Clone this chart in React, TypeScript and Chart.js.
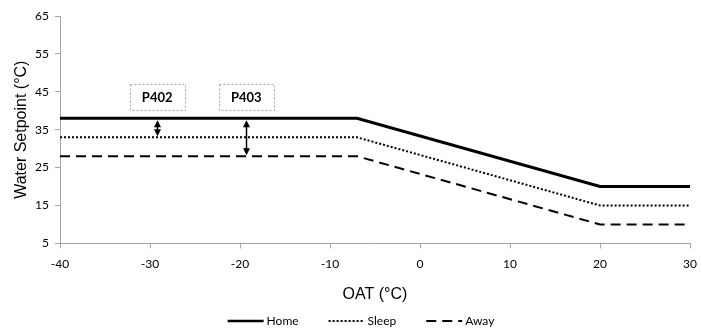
import React, { useEffect, useRef } from "react";
import { Chart, registerables } from "chart.js";

Chart.register(...registerables);

const oat = [-40, -7, 20, 30];
const home = [38, 38, 20, 20];
const sleep = [33, 33, 15, 15];
const away = [28, 28, 10, 10];

const seriesNames = ["Home", "Sleep", "Away"];

const xTicks = [-40, -30, -20, -10, 0, 10, 20, 30];
const yTicks = [5, 15, 25, 35, 45, 55, 65];

// annotation labels and their data positions
const annLabels = ["P402", "P403"];
const annX = [-29.2, -19.3];
const annTop = [38, 38];
const annBottom = [33, 28];
const annBoxY = [43.7, 43.7];

const tickFont = { family: "Lato, 'Open Sans', sans-serif", size: 12 };
const titleFont = { family: "'Liberation Sans', Arial, sans-serif", size: 16 };

const annotationPlugin = {
  id: "paramAnnotations",
  afterDatasetsDraw(chart: any) {
    const { ctx, scales } = chart;
    const xs = scales.x;
    const ys = scales.y;
    ctx.save();
    for (let i = 0; i < annLabels.length; i++) {
      const px = Math.round(xs.getPixelForValue(annX[i])) + 0.5;
      const pTop = ys.getPixelForValue(annTop[i]) + 2;
      const pBot = ys.getPixelForValue(annBottom[i]) - 1;
      ctx.strokeStyle = "#000";
      ctx.fillStyle = "#000";
      ctx.lineWidth = 1.5;
      ctx.setLineDash([]);
      ctx.beginPath();
      ctx.moveTo(px, pTop + 4);
      ctx.lineTo(px, pBot - 4);
      ctx.stroke();
      ctx.beginPath();
      ctx.moveTo(px, pTop);
      ctx.lineTo(px - 3.5, pTop + 7);
      ctx.lineTo(px + 3.5, pTop + 7);
      ctx.closePath();
      ctx.fill();
      ctx.beginPath();
      ctx.moveTo(px, pBot);
      ctx.lineTo(px - 3.5, pBot - 7);
      ctx.lineTo(px + 3.5, pBot - 7);
      ctx.closePath();
      ctx.fill();
      const bx = xs.getPixelForValue(annX[i]);
      const by = ys.getPixelForValue(annBoxY[i]);
      const w = 55;
      const h = 26;
      ctx.strokeStyle = "#a6a6a6";
      ctx.lineWidth = 1;
      ctx.setLineDash([2, 2]);
      ctx.strokeRect(Math.round(bx - w / 2) + 0.5, Math.round(by - h / 2) + 0.5, w, h);
      ctx.setLineDash([]);
      ctx.fillStyle = "#000";
      ctx.font = "bold 13px Lato, 'Open Sans', sans-serif";
      ctx.textAlign = "center";
      ctx.textBaseline = "middle";
      ctx.fillText(annLabels[i], bx, by + 1);
    }
    ctx.restore();
  },
};

const legendPlugin = {
  id: "customLegend",
  afterDraw(chart: any) {
    const { ctx } = chart;
    const y = chart.height - 8;
    const sample = 36;
    const gap = 3;
    const spacing = 30;
    ctx.save();
    ctx.font = "12px Lato, 'Open Sans', sans-serif";
    ctx.textBaseline = "middle";
    ctx.textAlign = "left";
    const items = chart.data.datasets.map((ds: any) => ({
      text: ds.label,
      w: sample + gap + ctx.measureText(ds.label).width,
      ds,
    }));
    const total = items.reduce((a: number, it: any) => a + it.w, 0) + spacing * (items.length - 1);
    let x = (chart.width - total) / 2 + 10;
    for (const it of items) {
      ctx.strokeStyle = it.ds.borderColor;
      ctx.lineWidth = Math.min(it.ds.borderWidth, 2.5);
      ctx.setLineDash(it.ds.borderDash || []);
      ctx.beginPath();
      ctx.moveTo(x, y);
      ctx.lineTo(x + sample, y);
      ctx.stroke();
      ctx.setLineDash([]);
      ctx.fillStyle = "#000";
      ctx.fillText(it.text, x + sample + gap, y);
      x += it.w + spacing;
    }
    ctx.restore();
  },
};

export default function App() {
  const ref = useRef<HTMLCanvasElement>(null);
  useEffect(() => {
    document.body.style.margin = "0";
    const mk = (data: number[]) => oat.map((x, i) => ({ x, y: data[i] }));
    const chart = new Chart(ref.current!, {
      type: "line",
      data: {
        datasets: [
          {
            label: seriesNames[0],
            data: mk(home),
            borderColor: "#000",
            backgroundColor: "#000",
            borderWidth: 3,
            pointRadius: 0,
          },
          {
            label: seriesNames[1],
            data: mk(sleep),
            borderColor: "#000",
            backgroundColor: "#000",
            borderWidth: 2,
            borderDash: [2, 2],
            pointRadius: 0,
          },
          {
            label: seriesNames[2],
            data: mk(away),
            borderColor: "#000",
            backgroundColor: "#000",
            borderWidth: 2,
            borderDash: [10, 6],
            pointRadius: 0,
          },
        ],
      },
      options: {
        animation: false,
        responsive: false,
        layout: { padding: { left: 12, right: 0, top: 16, bottom: 21 } },
        scales: {
          x: {
            type: "linear",
            min: xTicks[0],
            max: xTicks[xTicks.length - 1],
            afterBuildTicks: (s: any) => {
              s.ticks = xTicks.map((v) => ({ value: v }));
            },
            afterFit: (s: any) => {
              s.paddingRight = 12;
              s.paddingLeft = 0;
            },
            grid: {
              drawOnChartArea: false,
              color: "#a6a6a6",
              tickLength: 5,
            },
            border: { color: "#a6a6a6", width: 1 },
            ticks: { color: "#000", font: tickFont, maxRotation: 0, padding: 9 },
            title: {
              display: true,
              text: "OAT (°C)",
              color: "#000",
              font: titleFont,
              padding: { top: 4, bottom: 4 },
            },
          },
          y: {
            type: "linear",
            min: yTicks[0],
            max: yTicks[yTicks.length - 1],
            afterBuildTicks: (s: any) => {
              s.ticks = yTicks.map((v) => ({ value: v }));
            },
            afterFit: (s: any) => {
              s.width = 48;
            },
            grid: {
              drawOnChartArea: false,
              color: "#a6a6a6",
              tickLength: 5,
            },
            border: { color: "#a6a6a6", width: 1 },
            ticks: { color: "#000", font: tickFont, padding: 6 },
            title: {
              display: true,
              text: "Water Setpoint (°C)",
              color: "#000",
              font: titleFont,
              padding: { top: 0, bottom: 0 },
            },
          },
        },
        plugins: {
          legend: { display: false },
          tooltip: { enabled: false },
        },
      },
      plugins: [annotationPlugin, legendPlugin],
    });
    return () => chart.destroy();
  }, []);
  return <canvas ref={ref} width={702} height={329} style={{ display: "block" }} />;
}
